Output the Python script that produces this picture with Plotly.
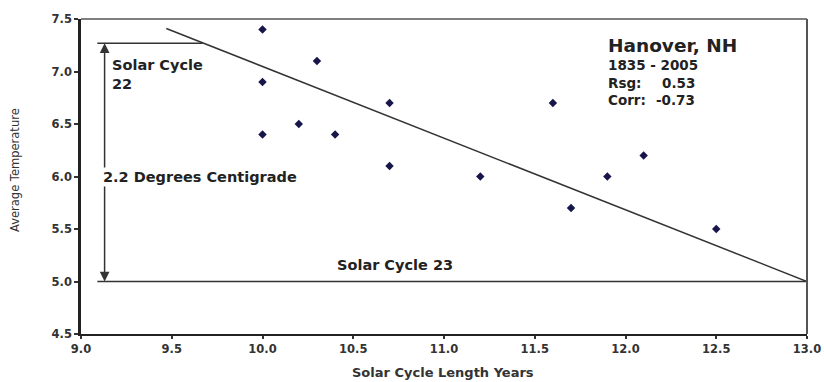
import plotly.graph_objects as go

# Data
cycle_length = [10.0, 10.0, 10.0, 10.2, 10.3, 10.4, 10.7, 10.7, 11.2, 11.6, 11.7, 11.9, 12.1, 12.5]
avg_temp = [7.4, 6.9, 6.4, 6.5, 7.1, 6.4, 6.7, 6.1, 6.0, 6.7, 5.7, 6.0, 6.2, 5.5]

trend_x = [9.47, 13.0]
trend_y = [7.41, 5.0]

cycle22_line_x = [9.09, 9.67]
cycle22_level = 7.27
cycle23_line_x = [9.09, 13.0]
cycle23_level = 5.0
arrow_x = 9.13
arrow_mid = 6.0

x_ticks = [9.0, 9.5, 10.0, 10.5, 11.0, 11.5, 12.0, 12.5, 13.0]
y_ticks = [4.5, 5.0, 5.5, 6.0, 6.5, 7.0, 7.5]

info_title = "Hanover, NH"
info_period = "1835 - 2005"
info_labels = ["Rsg:", "Corr:"]
info_values = ["0.53", "-0.73"]

FONT = "DejaVu Sans, Verdana, sans-serif"
TXT = "#222222"
LINE = "#333333"

fig = go.Figure()

fig.add_trace(go.Scatter(
    x=trend_x, y=trend_y, mode="lines",
    line=dict(color=LINE, width=1.5), hoverinfo="skip", showlegend=False))

fig.add_trace(go.Scatter(
    x=cycle22_line_x, y=[cycle22_level, cycle22_level], mode="lines",
    line=dict(color=LINE, width=1.5), hoverinfo="skip", showlegend=False))

fig.add_trace(go.Scatter(
    x=cycle23_line_x, y=[cycle23_level, cycle23_level], mode="lines",
    line=dict(color=LINE, width=1.5), hoverinfo="skip", showlegend=False))

fig.add_trace(go.Scatter(
    x=cycle_length, y=avg_temp, mode="markers",
    marker=dict(symbol="diamond", size=6.5, color="#16164a"),
    showlegend=False))

annotations = [
    dict(x=arrow_x, y=cycle22_level, ax=arrow_x, ay=arrow_mid, xref="x", yref="y",
         axref="x", ayref="y", showarrow=True, arrowhead=2, arrowsize=1.3,
         arrowwidth=1.5, arrowcolor=LINE, text=""),
    dict(x=arrow_x, y=cycle23_level, ax=arrow_x, ay=arrow_mid, xref="x", yref="y",
         axref="x", ayref="y", showarrow=True, arrowhead=2, arrowsize=1.3,
         arrowwidth=1.5, arrowcolor=LINE, text=""),
    dict(x=9.11, y=arrow_mid, xref="x", yref="y", xanchor="left", yanchor="middle",
         text="<b>2.2 Degrees Centigrade</b>", showarrow=False, bgcolor="white",
         font=dict(family=FONT, size=14.5, color=TXT), borderpad=1),
    dict(x=9.16, y=7.16, xref="x", yref="y", xanchor="left", yanchor="top",
         text="<b>Solar Cycle<br>22</b>", showarrow=False, align="left",
         font=dict(family=FONT, size=14.5, color=TXT)),
    dict(x=10.73, y=5.16, xref="x", yref="y", xanchor="center", yanchor="middle",
         text="<b>Solar Cycle 23</b>", showarrow=False,
         font=dict(family=FONT, size=14.5, color=TXT)),
    dict(x=11.89, y=7.243, xref="x", yref="y", xanchor="left", yanchor="middle",
         text=f"<b>{info_title}</b>", showarrow=False,
         font=dict(family=FONT, size=18.5, color=TXT)),
    dict(x=11.89, y=7.06, xref="x", yref="y", xanchor="left", yanchor="middle",
         text=f"<b>{info_period}</b>", showarrow=False,
         font=dict(family=FONT, size=13.5, color=TXT)),
]
for lab, val, yy in zip(info_labels, info_values, [6.89, 6.73]):
    annotations.append(dict(x=11.89, y=yy, xref="x", yref="y", xanchor="left",
                            yanchor="middle", text=f"<b>{lab}</b>", showarrow=False,
                            font=dict(family=FONT, size=13.5, color=TXT)))
    annotations.append(dict(x=12.394, y=yy, xref="x", yref="y", xanchor="right",
                            yanchor="middle", text=f"<b>{val}</b>", showarrow=False,
                            font=dict(family=FONT, size=13.5, color=TXT)))

# axis titles
annotations.append(dict(x=-0.0909, y=(334 - 170) / 315, xref="paper", yref="paper",
                        xanchor="center", yanchor="middle", textangle=-90,
                        text="Average Temperature", showarrow=False,
                        font=dict(family=FONT, size=11.5, color="#333")))
annotations.append(dict(x=(443 - 81) / 726, y=-(372 - 334) / 315, xref="paper", yref="paper",
                        xanchor="center", yanchor="middle",
                        text="<b>Solar Cycle Length Years</b>", showarrow=False,
                        font=dict(family=FONT, size=13, color="#333")))

fig.update_layout(
    width=824, height=382,
    margin=dict(l=81, r=17, t=19, b=48, autoexpand=False),
    paper_bgcolor="white", plot_bgcolor="white",
    annotations=annotations,
    shapes=[
        dict(type="line", xref="paper", yref="paper", x0=0, x1=1, y0=1, y1=1,
             line=dict(color="#555", width=1.5)),
        dict(type="line", xref="paper", yref="paper", x0=1, x1=1, y0=0, y1=1,
             line=dict(color="#555", width=2)),
    ],
    xaxis=dict(
        range=[9.0, 13.0], tickvals=x_ticks,
        ticktext=[f"<b>{v:.1f}</b>" for v in x_ticks],
        showgrid=False, zeroline=False, automargin=False,
        showline=True, linecolor="#222", linewidth=2,
        ticks="outside", ticklen=3, tickwidth=1.5, tickcolor="#333",
        tickfont=dict(family=FONT, size=11.5, color="#333"),
    ),
    yaxis=dict(
        range=[4.5, 7.5], tickvals=y_ticks,
        ticktext=[f"<b>{v:.1f}</b>" for v in y_ticks],
        showgrid=False, zeroline=False, automargin=False,
        showline=True, linecolor="#222", linewidth=2.5,
        ticks="outside", ticklen=4, tickwidth=1.5, tickcolor="#333",
        tickfont=dict(family=FONT, size=11.5, color="#333"),
    ),
)

# Remove the default page margin so the figure fills the window exactly.
fig.write_html(
    "out.html",
    config={"displayModeBar": False},
    post_script="document.body.style.margin='0';document.body.style.overflow='hidden';",
)
